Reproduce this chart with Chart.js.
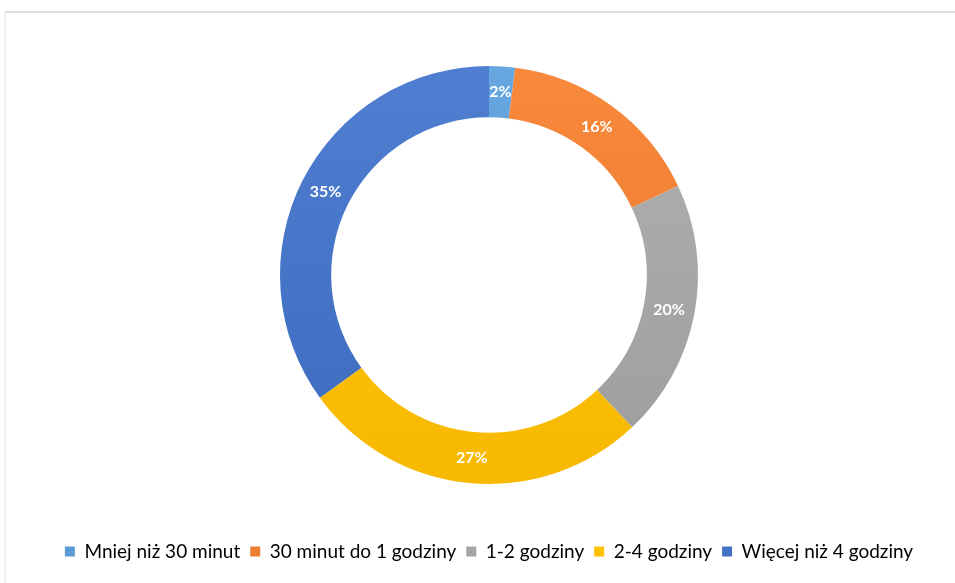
<!DOCTYPE html>
<html>
<head>
<meta charset="utf-8">
<script src="https://cdn.jsdelivr.net/npm/chart.js@4.4.1/dist/chart.umd.min.js"></script>
<style>
  html, body { margin: 0; padding: 0; background: #fff; }
  .frame {
    position: absolute; left: 4px; top: 11px; right: 0; bottom: 0;
    border-top: 2px solid #dedede;
    border-left: 2px solid #f1f1f1;
  }
  .wrap { position: absolute; left: 0; top: 0; width: 955px; height: 583px; }
</style>
</head>
<body>
<div class="frame"></div>
<div class="wrap"><canvas id="chart" width="955" height="583"></canvas></div>
<script>
// Time spent per day - share of answers
const categories = ['Mniej niż 30 minut', '30 minut do 1 godziny', '1-2 godziny', '2-4 godziny', 'Więcej niż 4 godziny'];
const shares = [2, 16, 20, 27, 35];
const sliceColors = ['#5B9BD5', '#ED7D31', '#A5A5A5', '#FFC000', '#4472C4'];

// Slight top-to-bottom shading like an Office chart fill
function shade(hex, amt) {
  const n = parseInt(hex.slice(1), 16);
  const ch = (v) => Math.max(0, Math.min(255, Math.round(v + amt)));
  const r = ch(n >> 16), g = ch((n >> 8) & 255), b = ch(n & 255);
  return `rgb(${r}, ${g}, ${b})`;
}

function gradientFill(ctx) {
  const chart = ctx.chart;
  const area = chart.chartArea;
  const base = sliceColors[ctx.dataIndex];
  if (!area) return base;
  const g = chart.ctx.createLinearGradient(0, 60, 0, 490);
  g.addColorStop(0, shade(base, 12));
  g.addColorStop(1, shade(base, -8));
  return g;
}

// White percentage labels in the middle of each ring segment
const sliceLabels = {
  id: 'sliceLabels',
  afterDatasetsDraw(chart) {
    const { ctx } = chart;
    const meta = chart.getDatasetMeta(0);
    ctx.save();
    ctx.font = 'bold 16px Lato, "Liberation Sans", sans-serif';
    ctx.fillStyle = '#ffffff';
    ctx.textAlign = 'center';
    ctx.textBaseline = 'middle';
    meta.data.forEach((arc, i) => {
      const p = arc.getCenterPoint();
      ctx.fillText(shares[i] + '%', p.x, p.y);
    });
    ctx.restore();
  }
};

new Chart(document.getElementById('chart').getContext('2d'), {
  type: 'doughnut',
  data: {
    labels: categories,
    datasets: [{
      data: shares,
      backgroundColor: gradientFill,
      borderWidth: 0,
      hoverOffset: 0,
    }],
  },
  options: {
    responsive: false,
    animation: false,
    radius: 209,
    cutout: '75.5%',
    layout: { padding: { top: 18, bottom: 12, left: 23, right: 0 } },
    plugins: {
      tooltip: { enabled: false },
      legend: {
        position: 'bottom',
        labels: {
          boxWidth: 10,
          boxHeight: 10,
          padding: 10,
          color: '#595959',
          font: { size: 19, family: 'Lato, "Liberation Sans", sans-serif' },
          generateLabels(chart) {
            return categories.map((c, i) => ({
              text: c,
              fillStyle: sliceColors[i],
              strokeStyle: sliceColors[i],
              lineWidth: 0,
              index: i,
            }));
          },
        },
      },
    },
  },
  plugins: [sliceLabels],
});
</script>
</body>
</html>
